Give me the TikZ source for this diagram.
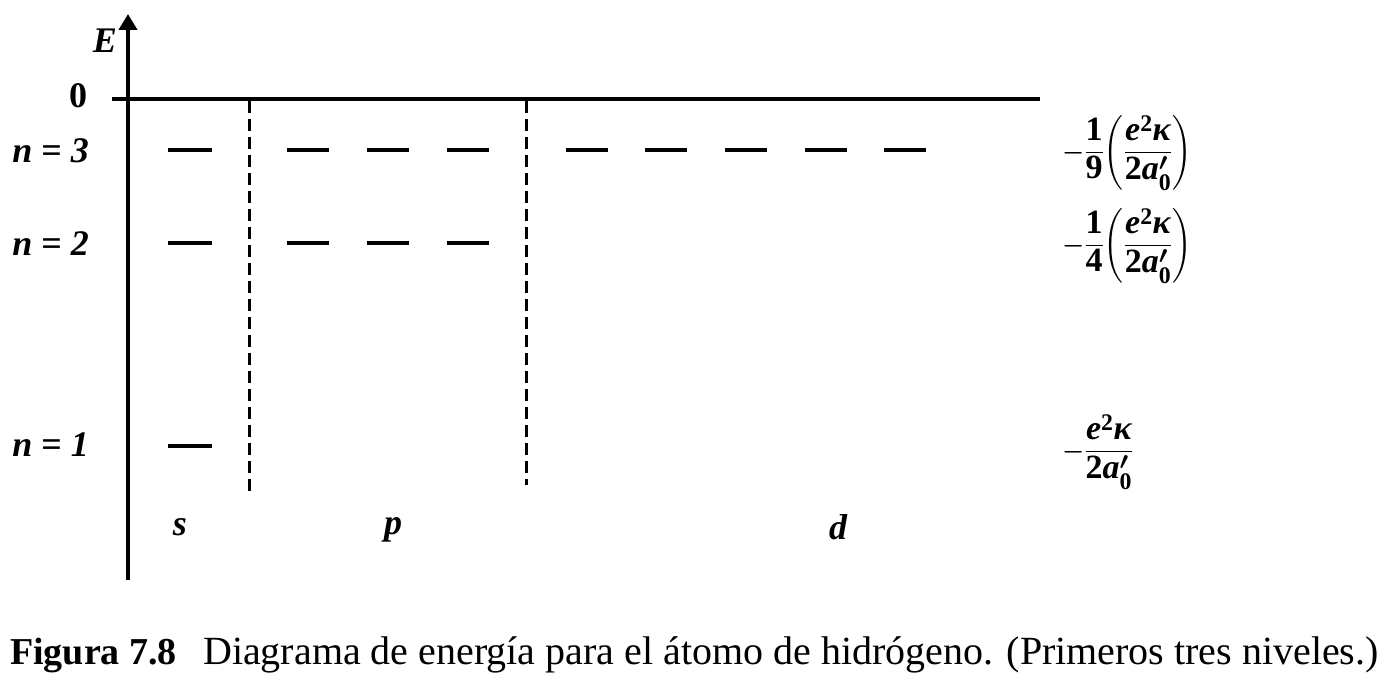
\documentclass[tikz,border=0pt]{standalone}
\usepackage{amsmath}
\usepackage{fontspec}
\setmainfont{Liberation Serif}
\usetikzlibrary{arrows.meta}
\newcommand\bfit[1]{\text{\bfseries\itshape #1}}
\newcommand\bfup[1]{\text{\bfseries\upshape #1}}
\newcommand\enfrac{\frac{\bfit{e}^{\bfup{2}}\bfit{κ}}{\bfup{2}\bfit{a}'_{\bfup{0}}}}
\begin{document}
\begin{tikzpicture}[x=1pt,y=-1pt,
  axisline/.style={line width=3.8pt},
  lvl/.style={line width=4pt},
  sepline/.style={line width=3pt, dash pattern=on 12pt off 6pt},
  lab/.style={font=\fontsize{36}{40}\selectfont\bfseries\itshape, inner sep=0pt},
  rlab/.style={font=\fontsize{34}{38}\selectfont\boldmath, inner sep=0pt, anchor=west},
  captext/.style={font=\fontsize{40}{44}\selectfont, inner sep=0pt, anchor=base west}]
\useasboundingbox (0,0) rectangle (1390,682);
% axes
\coordinate (ybot) at (128,580);
\coordinate (ytop) at (128,14);
\coordinate (hl) at (112,99);
\coordinate (hr) at (1040,99);
\draw[axisline,-{Triangle[length=16pt,width=18pt]}] (ybot) -- (ytop);
\draw[axisline] (hl) -- (hr);
% separators
\coordinate (sa1) at (249,101); \coordinate (sa2) at (249,495);
\coordinate (sb1) at (526,101); \coordinate (sb2) at (526,485);
\draw[sepline] (sa1) -- (sa2);
\draw[sepline] (sb1) -- (sb2);
% levels
\foreach \y in {150,243,446} \draw[lvl] (168,\y) -- (212,\y);
\foreach \x in {287,367,447} {\draw[lvl] (\x,150) -- ++(42,0); \draw[lvl] (\x,243) -- ++(42,0);}
\foreach \x in {566,645,725,805,884} \draw[lvl] (\x,150) -- ++(42,0);
% left labels
\node[lab] (E) at (105,41) {E};
\node[lab, font=\fontsize{36}{40}\selectfont\bfseries] (zero) at (78,96) {0};
\node[lab, anchor=east] (n3) at (89,151) {n \textup{=} 3};
\node[lab, anchor=east] (n2) at (89,244) {n \textup{=} 2};
\node[lab, anchor=east] (n1) at (89,445) {n \textup{=} 1};
% bottom labels
\node[lab] (ls) at (180,527) {s};
\node[lab] (lp) at (393,530) {p};
\node[lab] (ld) at (838,527) {d};
% right labels
\node[rlab] (r3) at (1062,153) {$\displaystyle -\frac{\bfup{1}}{\bfup{9}}\!\left(\enfrac\right)$};
\node[rlab] (r2) at (1062,246) {$\displaystyle -\frac{\bfup{1}}{\bfup{4}}\!\left(\enfrac\right)$};
\node[rlab] (r1) at (1062,452) {$\displaystyle -\enfrac$};
% caption
\node[captext, font=\fontsize{38}{42}\selectfont\bfseries] (c1) at (10,664) {Figura 7.8};
\node[captext] (c2) at (203,664) {Diagrama de energía para el átomo de hidrógeno. (Primeros tres niveles.)};
\end{tikzpicture}
\end{document}
